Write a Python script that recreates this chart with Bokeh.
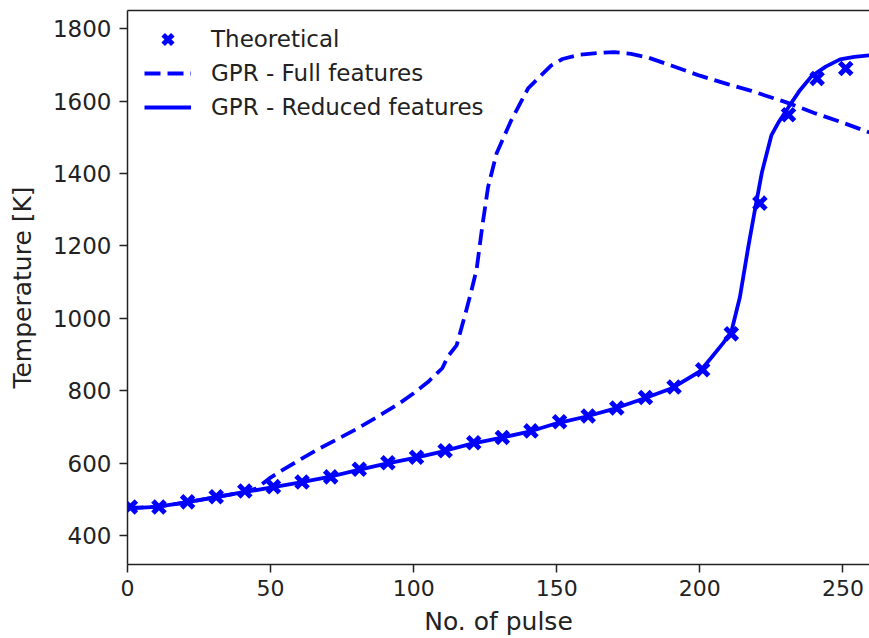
from bokeh.plotting import figure
from bokeh.models import Range1d, LinearAxis, Legend, LegendItem, FixedTicker
from bokeh.embed import file_html
from bokeh.resources import INLINE

# Theoretical points
theo_x = [1, 11, 21, 31, 41, 51, 61, 71, 81, 91, 101, 111, 121, 131, 141, 151,
          161, 171, 181, 191, 201, 211, 221, 231, 241, 251]
theo_y = [479, 479, 493, 507, 523, 535, 548, 562, 583, 601, 616, 634, 656, 671,
          689, 714, 730, 752, 781, 810, 858, 957, 1318, 1562, 1662, 1690]

# GPR - Full features (dashed)
full_x = [0, 10, 20, 30, 40, 45, 50, 55, 60, 67, 75, 80, 88, 95, 100, 105, 110,
          112, 115, 118, 120, 122, 124, 126, 129, 134, 140, 148, 152, 158, 165,
          170, 176, 182, 190, 200, 210, 218, 230, 240, 250, 260]
full_y = [476, 479, 491, 505, 519, 530, 560, 585, 608, 640, 673, 694, 731, 765,
          793, 824, 862, 895, 925, 1010, 1070, 1135, 1255, 1362, 1456, 1545,
          1635, 1698, 1716, 1728, 1733, 1735, 1730, 1720, 1698, 1670, 1646, 1628,
          1597, 1567, 1540, 1511]

# GPR - Reduced features (solid)
red_x = [0, 5, 10, 20, 30, 40, 50, 60, 70, 80, 90, 100, 110, 120, 130, 140, 150,
         160, 170, 180, 190, 200, 204, 208, 211, 214, 217, 219.5, 221.7, 225,
         227.5, 231, 235, 239, 244, 249, 254, 260]
red_y = [476, 477, 479, 491, 505, 519, 532, 546, 561, 580, 598, 614, 632, 653,
         669, 686, 710, 728, 750, 777, 806, 853, 891, 930, 962, 1058, 1200, 1310,
         1403, 1505, 1541, 1583, 1630, 1668, 1695, 1715, 1722, 1727]

x_ticks = [0, 50, 100, 150, 200, 250]
y_ticks = [400, 600, 800, 1000, 1200, 1400, 1600, 1800]

FONT = "DejaVu Sans"
LABEL_FS = "25px"
LEG_FS = "23px"
BLUE = "#0000ff"
INK = "#222222"

p = figure(width=869, height=638, output_backend="svg", toolbar_location=None,
           x_range=Range1d(0, 259.3), y_range=Range1d(320, 1850),
           min_border_left=127, min_border_right=0, min_border_top=10,
           min_border_bottom=74)
p.outline_line_color = None
p.xgrid.visible = False
p.ygrid.visible = False

for ax in (p.xaxis[0], p.yaxis[0]):
    ax.axis_line_color = INK
    ax.axis_line_width = 1.5
    ax.major_tick_line_color = INK
    ax.major_tick_line_width = 1.5
    ax.major_tick_out = 8
    ax.major_tick_in = 0
    ax.minor_tick_line_color = None
    ax.major_label_text_font = FONT
    ax.major_label_text_color = INK
    ax.axis_label_text_font = FONT
    ax.axis_label_text_font_size = LABEL_FS
    ax.axis_label_text_font_style = "normal"
    ax.axis_label_text_color = INK

p.xaxis[0].major_label_text_font_size = "22px"
p.yaxis[0].major_label_text_font_size = "23px"
p.xaxis[0].ticker = FixedTicker(ticks=x_ticks)
p.yaxis[0].ticker = FixedTicker(ticks=y_ticks)
p.xaxis[0].axis_label = "No. of pulse"
p.yaxis[0].axis_label = "Temperature [K]"
p.xaxis[0].major_label_standoff = 7
p.yaxis[0].major_label_standoff = 8
p.xaxis[0].axis_label_standoff = 8
p.yaxis[0].axis_label_standoff = 13

top = LinearAxis(ticker=FixedTicker(ticks=[]), axis_line_color=INK,
                 axis_line_width=1.5, major_tick_line_color=None,
                 minor_tick_line_color=None, major_label_text_font_size="0px")
p.add_layout(top, "above")

sc = p.scatter(theo_x, theo_y, marker="x", size=17, line_width=5,
               line_color=BLUE)
dl = p.line(full_x, full_y, line_color=BLUE, line_width=3.8, line_dash="16 7")
sl = p.line(red_x, red_y, line_color=BLUE, line_width=3.8)

legend = Legend(items=[LegendItem(label="Theoretical", renderers=[sc]),
                       LegendItem(label="GPR - Full features", renderers=[dl]),
                       LegendItem(label="GPR - Reduced features", renderers=[sl])],
                location=(17, 440), glyph_width=47, glyph_height=34,
                label_standoff=20, spacing=0, padding=2, margin=0,
                border_line_color=None, background_fill_alpha=0,
                label_text_font=FONT, label_text_font_size=LEG_FS,
                label_text_color=INK)
p.add_layout(legend)

open("out.html", "w").write(file_html(p, INLINE))
